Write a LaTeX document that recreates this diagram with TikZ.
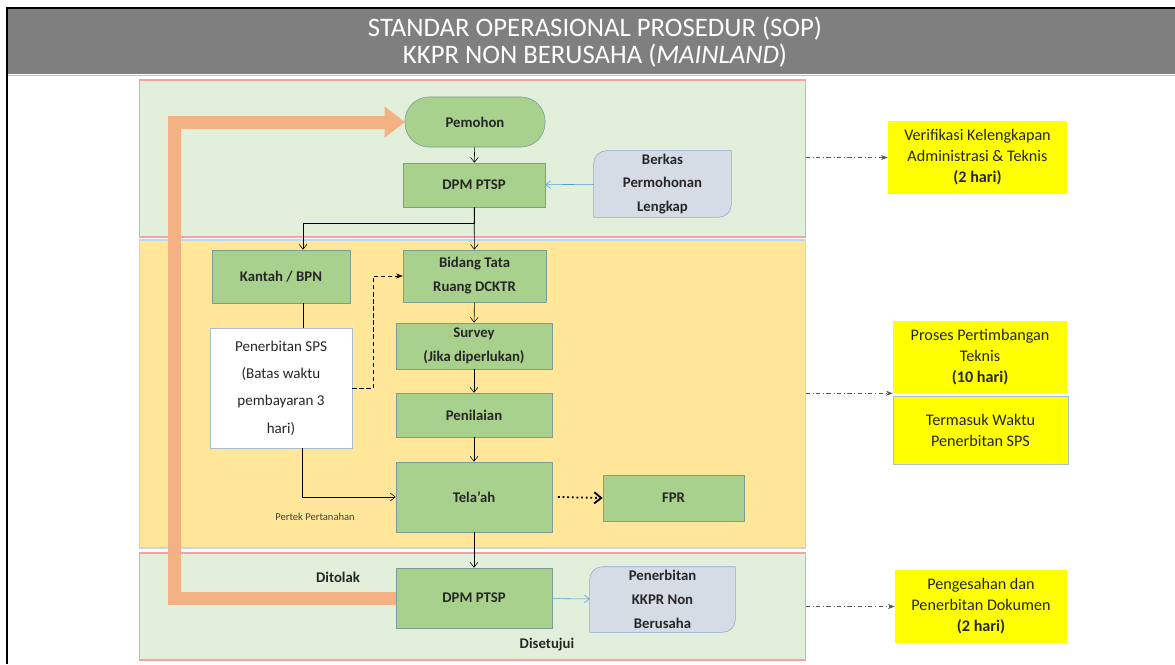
\documentclass[tikz,border=0pt]{standalone}
\usepackage{fontspec}
\setmainfont{Carlito}
\usetikzlibrary{arrows.meta,backgrounds,calc}
\definecolor{hdrgray}{HTML}{7F7F7F}
\definecolor{bandgreen}{HTML}{E2EFDA}
\definecolor{bandred}{HTML}{F4A3A3}
\definecolor{bandyellow}{HTML}{FFE699}
\definecolor{bandblue}{HTML}{BDD7EE}
\definecolor{boxgreen}{HTML}{A9D18E}
\definecolor{boxedge}{HTML}{7A9E96}
\definecolor{docfill}{HTML}{D6DCE5}
\definecolor{docedge}{HTML}{8FAADC}
\definecolor{backarrow}{HTML}{F4B183}
\definecolor{flowblue}{HTML}{5B9BD5}
\definecolor{noteyellow}{HTML}{FFFF00}
\tikzset {
  >={Straight Barb[length=3.5pt,width=5.5pt]},
  every node/.style={font=\fontsize{10.5}{17}\selectfont\bfseries,text=black!85,
    inner sep=0pt,align=center},
  greenbox/.style={draw=boxedge,fill=boxgreen},
  whitebox/.style={draw=bandblue!70!gray,fill=white,
    font=\fontsize{10.7}{19.5}\selectfont},
  notebox/.style={fill=noteyellow,font=\fontsize{11.5}{15}\selectfont},
  noteline/.style={-Stealth,dash dot,black!65},
  blueline/.style={->,flowblue},
  docoutline/.style={draw=docedge,fill=docfill},
}

\begin{document}
\begin{tikzpicture}[x=0.025cm,y=-0.025cm]
  \useasboundingbox (0,0) rectangle (1175,664);
  % header
  \fill[hdrgray] (8,9) rectangle (1175,74);
  \draw[black!25] (8,75) -- (1175,75);
  \draw[line width=1.2pt] (7,664) -- (7,8) -- (1175,8);
  \node (title) at (595,42)[text=white,font=\fontsize{19}{19.5}\selectfont]
    {STANDAR OPERASIONAL PROSEDUR (SOP)\\KKPR NON BERUSAHA (\textit{MAINLAND})};

  % flow nodes
  \node (pemohon) at (475,122)[greenbox,rounded corners=0.6cm,
    minimum width=3.5cm,minimum height=1.25cm]{Pemohon};
  \node (dpmA) at (474,185)[greenbox,minimum width=3.55cm,minimum height=1.1cm]{DPM PTSP};
  \node (berkas) at (662.5,184)[minimum width=3.425cm,minimum height=1.65cm]
    {Berkas\\Permohonan\\Lengkap};
  \node (kantah) at (281,276.5)[greenbox,minimum width=3.45cm,minimum height=1.325cm]{Kantah / BPN};
  \node (bidang) at (474.5,276)[greenbox,minimum width=3.575cm,minimum height=1.3cm]
    {Bidang Tata\\Ruang DCKTR};
  \node (sps) at (281,388)[whitebox,minimum width=3.55cm,minimum height=3cm]
    {Penerbitan SPS\\(Batas waktu\\pembayaran 3\\hari)};
  \node (survey) at (474,346)[greenbox,minimum width=3.9cm,minimum height=1.15cm]
    {Survey\\(Jika diperlukan)};
  \node (penilaian) at (474,415)[greenbox,minimum width=3.9cm,minimum height=1.1cm]{Penilaian};
  \node (telaah) at (474,497)[greenbox,minimum width=3.9cm,minimum height=1.75cm]{Tela’ah};
  \node (fpr) at (673.5,498)[greenbox,minimum width=3.525cm,minimum height=1.15cm]{FPR};
  \node (dpmB) at (474,598)[greenbox,minimum width=3.9cm,minimum height=1.5cm]{DPM PTSP};
  \node (kkpr) at (662.5,599.5)[minimum width=3.625cm,minimum height=1.625cm]
    {Penerbitan\\KKPR Non\\Berusaha};
  \node (pertek) at (315,517)[font=\fontsize{7.5}{9}\selectfont,text=black!75]{Pertek Pertanahan};
  \node (ditolak) at (338,577){Ditolak};
  \node (setuju) at (547,645){Disetujui};

  % notes on the right
  \node (ver) at (977.5,157.5)[notebox,minimum width=4.475cm,minimum height=1.825cm]
    {Verifikasi Kelengkapan\\Administrasi \& Teknis\\\textbf{(2 hari)}};
  \node (proses) at (980,357)[notebox,minimum width=4.35cm,minimum height=1.8cm]
    {Proses Pertimbangan\\Teknis\\\textbf{(10 hari)}};
  \node (termasuk) at (980.5,430)[notebox,draw=bandblue!70!gray,
    minimum width=4.375cm,minimum height=1.7cm]{Termasuk Waktu\\Penerbitan SPS};
  \node (sah) at (981,606.5)[notebox,minimum width=4.3cm,minimum height=1.825cm]
    {Pengesahan dan\\Penerbitan Dokumen\\\textbf{(2 hari)}};

  % bands and document shapes behind
  \begin{scope}[on background layer]
    \node (topband) at (472.5,158.5)[draw=bandred,fill=bandgreen,line width=0.8pt,
      minimum width=16.625cm,minimum height=3.925cm]{};
    \node (midband) at (472.5,394)[draw=bandblue,fill=bandyellow,line width=0.8pt,
      minimum width=16.625cm,minimum height=7.7cm]{};
    \node (botband) at (472.5,606.5)[draw=bandred,fill=bandgreen,line width=0.8pt,
      minimum width=16.625cm,minimum height=2.675cm]{};
    \filldraw[docoutline] ([yshift=-9pt]berkas.north west)
      arc[start angle=180,end angle=90,radius=9pt] -- (berkas.north east)
      -- ([yshift=9pt]berkas.south east) arc[start angle=0,end angle=-90,radius=9pt]
      -- (berkas.south west) -- cycle;
    \filldraw[docoutline] ([yshift=-9pt]kkpr.north west)
      arc[start angle=180,end angle=90,radius=9pt] -- (kkpr.north east)
      -- ([yshift=9pt]kkpr.south east) arc[start angle=0,end angle=-90,radius=9pt]
      -- (kkpr.south west) -- cycle;
  \end{scope}

  % connectors
  \draw[->] (pemohon) -- (dpmA);
  \draw[blueline] (berkas) -- (dpmA);
  \draw[->] (dpmA) -- (bidang);
  \draw[->] (dpmA.south) -- ++(0,16) -| ([xshift=0.55cm]kantah.north);
  \draw ([xshift=0.55cm]kantah.south) -- ([xshift=0.55cm]sps.north);
  \draw[-Stealth,densely dashed] (sps.east) -- ++(21,0) |- (bidang.west);
  \draw[->] (bidang) -- (survey);
  \draw[->] (survey) -- (penilaian);
  \draw[->] (penilaian) -- (telaah);
  \draw[->] ([xshift=0.525cm]sps.south) |- (telaah.west);
  \draw[-{Straight Barb[length=5pt,width=8pt]},line width=1.3pt,dotted]
    ([xshift=4pt]telaah.east) -- (fpr.west);
  \draw[->] (telaah) -- (dpmB);
  \draw[blueline] (dpmB) -- (kkpr);
  \coordinate (back) at (174.5,0);
  \draw[backarrow,line width=0.325cm,line join=miter,
    -{Triangle[length=0.5cm,width=0.75cm]}]
    (dpmB.west) -- (dpmB.west -| back) |- (pemohon.west);

  \draw[noteline] (topband.east |- ver.west) -- (ver.west);
  \draw[noteline] (midband.east |- proses.south west) -- (proses.south west);
  \draw[noteline] (botband.east |- sah.west) -- (sah.west);
\end{tikzpicture}
\end{document}
